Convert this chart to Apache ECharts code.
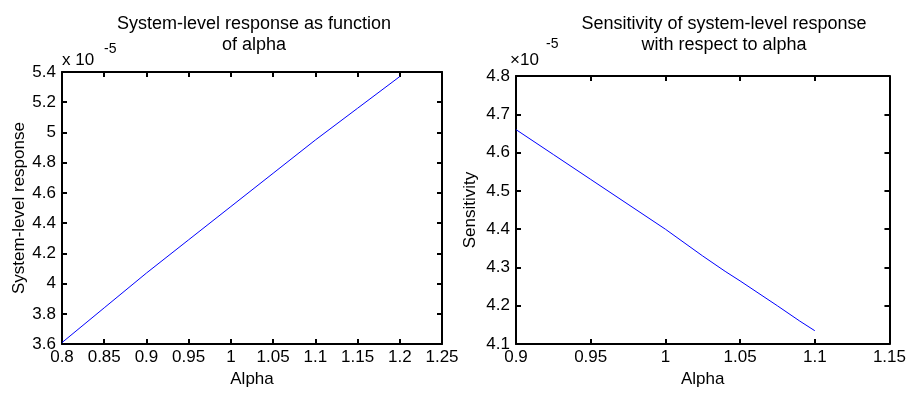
<!DOCTYPE html>
<html>
<head>
<meta charset="utf-8">
<script src="https://cdn.jsdelivr.net/npm/echarts@6/dist/echarts.min.js"></script>
<style>
html, body { margin: 0; padding: 0; background: #fff; }
#chart { width: 909px; height: 393px; }
</style>
</head>
<body>
<div id="chart"></div>
<script>
// left panel: response vs alpha (x 1e-5)
var alphaLeft = [0.8, 0.85, 0.9, 0.95, 1.0, 1.05, 1.1, 1.15, 1.2];
var responseVals = [3.61, 3.84, 4.07, 4.29, 4.51, 4.73, 4.95, 5.16, 5.37];
// right panel: sensitivity vs alpha (x 1e-5)
var alphaRight = [0.9, 0.925, 0.95, 0.975, 1.0, 1.025, 1.04, 1.05, 1.075, 1.09, 1.1];
var sensVals = [4.66, 4.595, 4.53, 4.465, 4.40, 4.33, 4.29, 4.265, 4.20, 4.16, 4.135];

function pairs(xs, ys) {
    var out = [];
    for (var i = 0; i < xs.length; i++) {
        out.push([xs[i], ys[i]]);
    }
    return out;
}

var font = 'Liberation Sans';
var black = '#000';
var tickSize = 17;

function mainX(grid, min, max) {
    return {
        type: 'value', gridIndex: grid, min: min, max: max, interval: 0.05,
        position: 'bottom',
        name: 'Alpha', nameLocation: 'middle', nameGap: 26,
        nameTextStyle: { color: black, fontSize: tickSize, fontFamily: font },
        axisLine: { show: true, onZero: false, lineStyle: { color: black, width: 2 } },
        axisTick: { show: true, inside: true, length: 5, lineStyle: { color: black, width: 2 } },
        axisLabel: { color: black, fontSize: tickSize, fontFamily: font, margin: 5, showMaxLabel: true },
        splitLine: { show: false }
    };
}
function frameX(grid, min, max) {
    return {
        type: 'value', gridIndex: grid, min: min, max: max, interval: 0.05,
        position: 'top',
        axisLine: { show: true, onZero: false, lineStyle: { color: black, width: 2 } },
        axisTick: { show: true, inside: true, length: 5, lineStyle: { color: black, width: 2 } },
        axisLabel: { show: false },
        splitLine: { show: false }
    };
}
function mainY(grid, min, max, step, name, gap) {
    return {
        type: 'value', gridIndex: grid, min: min, max: max, interval: step,
        position: 'left',
        name: name, nameLocation: 'middle', nameGap: gap,
        nameTextStyle: { color: black, fontSize: tickSize, fontFamily: font },
        axisLine: { show: true, onZero: false, lineStyle: { color: black, width: 2 } },
        axisTick: { show: true, inside: true, length: 5, lineStyle: { color: black, width: 2 } },
        axisLabel: { color: black, fontSize: tickSize, fontFamily: font, margin: 6 },
        splitLine: { show: false }
    };
}
function frameY(grid, min, max, step) {
    return {
        type: 'value', gridIndex: grid, min: min, max: max, interval: step,
        position: 'right',
        axisLine: { show: true, onZero: false, lineStyle: { color: black, width: 2 } },
        axisTick: { show: true, inside: true, length: 5, lineStyle: { color: black, width: 2 } },
        axisLabel: { show: false },
        splitLine: { show: false }
    };
}

var chart = echarts.init(document.getElementById('chart'));
var option = {
    animation: false,
    backgroundColor: '#fff',
    textStyle: { fontFamily: font },
    title: [{
        text: 'System-level response as function\nof alpha',
        left: 249, top: 9, textAlign: 'center',
        textStyle: { color: black, fontSize: 18, fontWeight: 'normal', fontFamily: font, lineHeight: 21 }
    }, {
        text: 'Sensitivity of system-level response\nwith respect to alpha',
        left: 719, top: 9, textAlign: 'center',
        textStyle: { color: black, fontSize: 18, fontWeight: 'normal', fontFamily: font, lineHeight: 21 }
    }],
    graphic: [
        { type: 'text', left: 62, top: 52, style: { text: 'x 10', fontSize: tickSize, fontFamily: font, fill: black } },
        { type: 'text', left: 104, top: 42, style: { text: '-5', fontSize: 14, fontFamily: font, fill: black } },
        { type: 'text', left: 510, top: 52, style: { text: '×10', fontSize: tickSize, fontFamily: font, fill: black } },
        { type: 'text', left: 546, top: 37, style: { text: '-5', fontSize: 14, fontFamily: font, fill: black } }
    ],
    grid: [
        { left: 62, top: 72, width: 380, height: 277 },
        { left: 516, top: 76, width: 382, height: 273 }
    ],
    xAxis: [
        mainX(0, 0.8, 1.25),
        frameX(0, 0.8, 1.25),
        mainX(1, 0.9, 1.15),
        frameX(1, 0.9, 1.15)
    ],
    yAxis: [
        mainY(0, 3.6, 5.4, 0.2, 'System-level response', 34),
        frameY(0, 3.6, 5.4, 0.2),
        mainY(1, 4.1, 4.8, 0.1, 'Sensitivity', 37),
        frameY(1, 4.1, 4.8, 0.1)
    ],
    series: [{
        type: 'line', xAxisIndex: 0, yAxisIndex: 0,
        data: pairs(alphaLeft, responseVals),
        showSymbol: false,
        lineStyle: { color: '#0000ff', width: 1 }
    }, {
        type: 'line', xAxisIndex: 2, yAxisIndex: 2,
        data: pairs(alphaRight, sensVals),
        showSymbol: false,
        lineStyle: { color: '#0000ff', width: 1 }
    }]
};
chart.setOption(option);
</script>
</body>
</html>
